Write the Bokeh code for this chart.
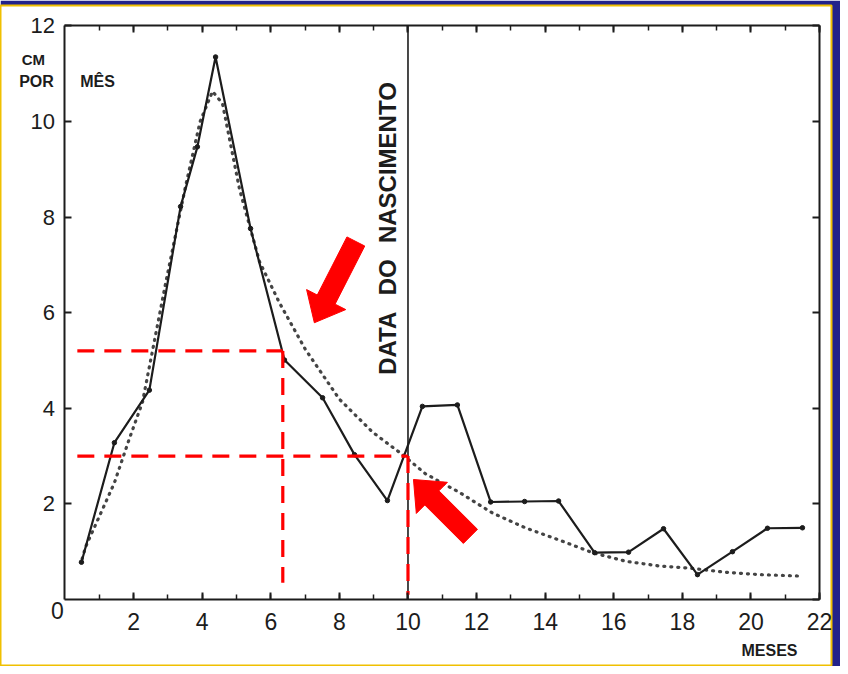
import numpy as np
from bokeh.plotting import figure
from bokeh.models import LinearAxis, FixedTicker, Range1d, Label
from bokeh.embed import file_html
from bokeh.resources import INLINE

# ---------------- data ----------------
MONTHS_OBS = [0.48, 1.44, 2.46, 3.37, 3.86, 4.39, 5.41, 6.40, 7.51, 8.44, 9.40,
              10.42, 11.44, 12.41, 13.40, 14.39, 15.44, 16.43, 17.45, 18.44,
              19.46, 20.48, 21.50]
GROWTH_OBS = [0.78, 3.28, 4.38, 8.22, 9.47, 11.35, 7.76, 5.01, 4.22, 3.03, 2.07,
              4.04, 4.07, 2.04, 2.05, 2.06, 0.98, 0.99, 1.48, 0.52,
              1.00, 1.49, 1.50]

MONTHS_FIT = [0.50, 0.60, 1.09, 1.44, 1.88, 2.26, 2.93, 3.51, 3.94, 4.30, 4.59,
              5.09, 5.67, 6.25, 7.01, 8.00, 8.97, 9.84, 10.51, 11.50, 12.46,
              13.42, 14.42, 15.38, 16.34, 17.33, 18.30, 19.25, 20.25, 21.42]
GROWTH_FIT = [0.85, 1.10, 1.88, 2.44, 3.37, 4.13, 6.60, 8.63, 10.00, 10.63, 10.38,
              8.58, 7.07, 6.21, 5.23, 4.19, 3.50, 3.03, 2.63, 2.24, 1.81,
              1.50, 1.24, 0.98, 0.80, 0.70, 0.65, 0.57, 0.52, 0.49]

X_TICKS = [2, 4, 6, 8, 10, 12, 14, 16, 18, 20, 22]
X_MINOR = list(range(1, 23))
Y_TICKS = [2, 4, 6, 8, 10, 12]
Y_RIGHT_TICKS = [0, 2, 4, 6, 8, 10, 12]
X_MAX = 22
Y_MAX = 12
BIRTH_MONTH = 10

# red dashed reference lines (x0, y0, x1, y1)
REF_X0 = [0.36, 6.35, 0.36, 10.0]
REF_Y0 = [5.20, 5.20, 3.00, 3.00]
REF_X1 = [6.35, 6.35, 10.0, 10.0]
REF_Y1 = [5.20, 0.35, 3.00, 0.10]

# red arrows: tail -> tip
ARROW_TAIL_X = [8.48, 11.82]
ARROW_TAIL_Y = [7.49, 1.32]
ARROW_TIP_X = [7.27, 10.16]
ARROW_TIP_Y = [5.79, 2.51]

INK = "#1c1c1c"
NAVY = "#22228a"
FONT = "Liberation Sans"

# ---------------- figure ----------------
W, H = 840, 666
BL, BR, BT, BB = 0, 9, 5, 0
XR = (-1.880, 22.347)
YR = (-1.402, 12.427)

p = figure(width=W, height=H, output_backend="svg", toolbar_location=None,
           x_range=Range1d(*XR), y_range=Range1d(*YR),
           x_axis_type=None, y_axis_type=None,
           min_border_left=BL, min_border_right=BR,
           min_border_top=BT, min_border_bottom=BB,
           border_fill_color=NAVY, background_fill_color="white",
           outline_line_color="#f0c000", outline_line_width=2)


def make_axis(loc, bounds, ticks, minor, show_labels, font_size):
    ax = LinearAxis(fixed_location=loc, bounds=bounds,
                    ticker=FixedTicker(ticks=ticks, minor_ticks=minor))
    ax.axis_line_width = 2
    ax.axis_line_color = INK
    ax.major_tick_in = 7
    ax.major_tick_out = 0
    ax.major_tick_line_width = 2
    ax.major_tick_line_color = INK
    ax.minor_tick_in = 5
    ax.minor_tick_out = 0
    ax.minor_tick_line_width = 1.5
    ax.minor_tick_line_color = INK
    ax.major_label_text_font = FONT
    ax.major_label_text_font_size = font_size
    ax.major_label_text_color = INK
    if not show_labels:
        ax.major_label_overrides = {t: "" for t in ticks}
    return ax


bottom = make_axis(0, (0, X_MAX), X_TICKS, X_MINOR, True, "23px")
bottom.major_label_standoff = 14
left = make_axis(0, (0, Y_MAX), Y_TICKS, [], True, "22px")
left.major_label_standoff = 10
right = make_axis(X_MAX, (0, Y_MAX), Y_RIGHT_TICKS, [], False, "10px")
top = make_axis(Y_MAX, (0, X_MAX), X_TICKS, X_MINOR, False, "10px")

p.add_layout(bottom, "below")
p.add_layout(left, "left")
p.add_layout(right, "right")
p.add_layout(top, "above")

# birth line
p.segment(x0=[BIRTH_MONTH], y0=[0], x1=[BIRTH_MONTH], y1=[Y_MAX],
          line_color=INK, line_width=1.6)

# fitted (dotted) curve
p.line(MONTHS_FIT, GROWTH_FIT, line_color="#444444", line_width=3.2,
       line_dash="1 6", line_cap="round")

# observed curve
p.line(MONTHS_OBS, GROWTH_OBS, line_color=INK, line_width=2.2)
p.scatter(MONTHS_OBS, GROWTH_OBS, size=4.5, color=INK)

# red dashed reference lines
p.segment(x0=REF_X0, y0=REF_Y0, x1=REF_X1, y1=REF_Y1,
          line_color="#ff0000", line_width=3.2, line_dash="17 10")

# red arrows built as polygons (pixel geometry -> data units)
fw = W - BL - BR
fh = H - BT - BB
sx = fw / (XR[1] - XR[0])
sy = fh / (YR[1] - YR[0])
SHAFT, HEAD_W, HEAD_L = 20.0, 44.0, 26.0
xs, ys = [], []
for tx, ty, hx, hy in zip(ARROW_TAIL_X, ARROW_TAIL_Y, ARROW_TIP_X, ARROW_TIP_Y):
    a = np.array([tx * sx, ty * sy])
    b = np.array([hx * sx, hy * sy])
    d = (b - a) / np.linalg.norm(b - a)
    n = np.array([-d[1], d[0]])
    base = b - d * HEAD_L
    pts = [a + n * SHAFT / 2, base + n * SHAFT / 2, base + n * HEAD_W / 2, b,
           base - n * HEAD_W / 2, base - n * SHAFT / 2, a - n * SHAFT / 2]
    xs.append([q[0] / sx for q in pts])
    ys.append([q[1] / sy for q in pts])
p.patches(xs, ys, fill_color="#ff0000", line_color="#ff0000", line_width=1)

# texts
def add_text(x, y, text, size, bold=False, angle=0.0):
    p.add_layout(Label(x=x, y=y, text=text, text_font=FONT,
                       text_font_size=size, text_color=INK,
                       text_font_style="bold" if bold else "normal",
                       text_align="center", text_baseline="middle",
                       angle=angle))

add_text(-0.22, -0.23, "0", "23px")
add_text(-0.92, 11.30, "CM", "15px", bold=True)
add_text(-0.83, 10.83, "POR", "16px", bold=True)
add_text(0.95, 10.83, "MÊS", "16px", bold=True)
add_text(20.54, -1.07, "MESES", "16px", bold=True)
add_text(9.40, 9.14, "NASCIMENTO", "24px", bold=True, angle=np.pi / 2)
add_text(9.40, 6.74, "DO", "24px", bold=True, angle=np.pi / 2)
add_text(9.40, 5.36, "DATA", "24px", bold=True, angle=np.pi / 2)

open("out.html", "w").write(file_html(p, INLINE))
